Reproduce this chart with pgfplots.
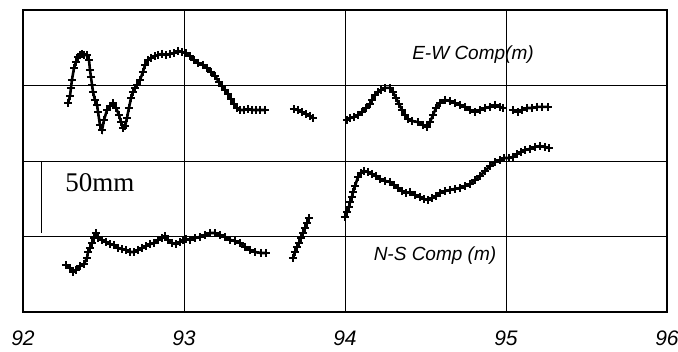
\documentclass[border=0pt]{standalone}
\usepackage{pgfplots}
\pgfplotsset{compat=1.18}
\usepackage{fontspec}
\setmainfont{Liberation Serif}
\newfontfamily\arialfont{Liberation Sans}
\pgfplotsset{ser/.style={black, line width=2.6pt, mark=+, mark size=4pt, mark options={black, line width=1.4pt, solid}}}
\begin{document}
\begin{tikzpicture}
\useasboundingbox (-23pt,-40pt) rectangle (655pt,312pt);
\begin{axis}[
  scale only axis,
  width=644pt, height=302pt,
  xmin=92, xmax=96, ymin=0, ymax=200,
  xtick={92,93,94,95,96},
  xticklabels={92,93,94,95,96},
  ytick={50,100,150},
  yticklabels={},
  major tick length=0pt,
  xmajorgrids, ymajorgrids,
  major grid style={black, line width=0.8pt},
  axis line style={black, line width=1.1pt},
  xticklabel style={font=\arialfont\itshape\fontsize{21}{21}\selectfont, yshift=-15pt},
  clip=false,
]
% E-W component
\addplot[ser] coordinates {
(92.280,138.4)(92.292,143.1)(92.298,148.4)(92.304,153.7)(92.317,161.6)(92.329,165.6)(92.342,168.9)(92.354,170.2)(92.366,170.9)(92.379,170.2)(92.398,170.2)(92.410,166.9)(92.416,160.3)(92.422,155.6)(92.429,150.3)(92.435,145.7)(92.447,140.4)(92.460,137.1)(92.466,132.5)(92.478,123.9)(92.491,120.5)(92.503,127.2)(92.522,133.8)(92.540,136.4)(92.559,138.4)(92.578,135.1)(92.596,130.5)(92.609,125.8)(92.621,121.9)(92.634,123.2)(92.646,128.5)(92.658,135.1)(92.671,141.7)(92.683,145.7)(92.696,148.4)(92.708,150.3)(92.727,153.7)(92.745,159.0)(92.758,163.6)(92.776,166.9)(92.795,168.2)(92.820,169.5)(92.839,170.2)(92.863,170.9)(92.888,170.2)(92.913,170.9)(92.938,171.5)(92.963,172.9)(92.988,172.2)(93.012,171.5)(93.037,169.5)(93.062,166.9)(93.087,164.9)(93.118,163.6)(93.143,161.6)(93.168,159.0)(93.193,156.3)(93.217,152.3)(93.236,149.7)(93.255,147.0)(93.273,144.4)(93.292,141.1)(93.311,137.8)(93.329,135.1)(93.348,133.8)(93.373,133.8)(93.398,134.4)(93.422,133.8)(93.447,133.8)(93.472,133.8)(93.503,133.8)
};
\addplot[ser] coordinates {
(93.683,134.4)(93.708,133.8)(93.733,132.5)(93.758,131.1)(93.783,129.8)(93.801,128.5)
};
\addplot[ser] coordinates {
(94.012,127.2)(94.031,128.5)(94.056,129.1)(94.081,130.5)(94.106,132.5)(94.130,135.1)(94.155,137.8)(94.168,140.4)(94.186,143.7)(94.205,145.7)(94.224,147.0)(94.248,148.4)(94.280,148.4)(94.298,145.7)(94.317,141.7)(94.335,137.8)(94.354,133.8)(94.373,130.5)(94.391,127.8)(94.416,126.5)(94.453,125.8)(94.484,123.9)(94.509,122.5)(94.528,125.8)(94.547,130.5)(94.565,135.1)(94.590,138.4)(94.621,140.4)(94.652,139.7)(94.683,138.4)(94.714,137.1)(94.745,135.8)(94.776,133.8)(94.807,132.5)(94.839,133.8)(94.870,135.1)(94.901,135.8)(94.932,137.1)(94.963,135.8)(94.981,135.1)
};
\addplot[ser] coordinates {
(95.043,133.8)(95.075,132.5)(95.099,133.8)(95.130,135.1)(95.161,135.1)(95.193,135.8)(95.224,135.8)(95.261,135.8)
};
% N-S component
\addplot[ser] coordinates {
(92.267,31.1)(92.292,29.1)(92.311,26.5)(92.329,27.8)(92.354,30.5)(92.379,31.8)(92.398,35.8)(92.404,39.7)(92.416,42.4)(92.429,45.7)(92.441,49.0)(92.453,52.3)(92.466,49.0)(92.491,47.7)(92.516,46.4)(92.540,45.0)(92.565,44.4)(92.590,42.4)(92.615,41.7)(92.640,41.1)(92.665,39.7)(92.689,39.7)(92.714,41.1)(92.739,42.4)(92.764,43.7)(92.789,45.0)(92.814,45.7)(92.839,47.7)(92.863,49.0)(92.882,50.3)(92.901,47.7)(92.925,45.7)(92.950,45.0)(92.975,46.4)(92.994,47.7)(93.012,48.3)(93.037,47.7)(93.068,49.0)(93.099,49.7)(93.130,51.0)(93.161,52.3)(93.193,52.3)(93.224,51.0)(93.255,49.7)(93.286,47.7)(93.317,47.0)(93.348,45.7)(93.379,43.0)(93.410,41.1)(93.441,39.7)(93.478,39.1)(93.509,39.1)
};
\addplot[ser] coordinates {
(93.677,35.8)(93.689,39.7)(93.702,43.0)(93.714,45.7)(93.727,49.0)(93.739,52.3)(93.752,55.6)(93.764,58.9)(93.776,62.3)
};
\addplot[ser] coordinates {
(94.000,62.9)(94.012,66.2)(94.025,69.5)(94.031,72.9)(94.043,76.2)(94.050,79.5)(94.062,83.4)(94.081,89.4)(94.099,92.1)(94.118,93.4)(94.143,92.7)(94.168,91.4)(94.193,90.1)(94.217,88.1)(94.248,86.8)(94.280,86.1)(94.304,84.1)(94.329,82.1)(94.354,80.1)(94.379,78.8)(94.404,79.5)(94.435,77.5)(94.466,76.2)(94.491,74.8)(94.516,74.2)(94.540,75.5)(94.565,76.8)(94.590,78.8)(94.621,80.1)(94.652,80.8)(94.683,81.5)(94.714,82.1)(94.745,83.4)(94.776,84.8)(94.807,87.4)(94.839,90.1)(94.870,93.4)(94.901,96.7)(94.932,99.3)(94.963,100.7)(94.988,102.0)(95.019,102.0)(95.043,102.7)(95.068,104.6)(95.093,106.0)(95.118,107.3)(95.149,108.0)(95.180,109.3)(95.211,109.9)(95.242,109.3)(95.267,108.6)
};
% annotations
\draw[black, line width=1pt] (axis cs:92.118,100) -- (axis cs:92.118,52);
\node[font=\fontsize{27}{27}\selectfont] at (axis cs:92.478,85.4) {50mm};
\node[font=\arialfont\itshape\fontsize{19}{19}\selectfont] at (axis cs:94.795,170.2) {E-W Comp(m)};
\node[font=\arialfont\itshape\fontsize{19}{19}\selectfont] at (axis cs:94.559,37.1) {N-S Comp (m)};
\end{axis}
\end{tikzpicture}
\end{document}
